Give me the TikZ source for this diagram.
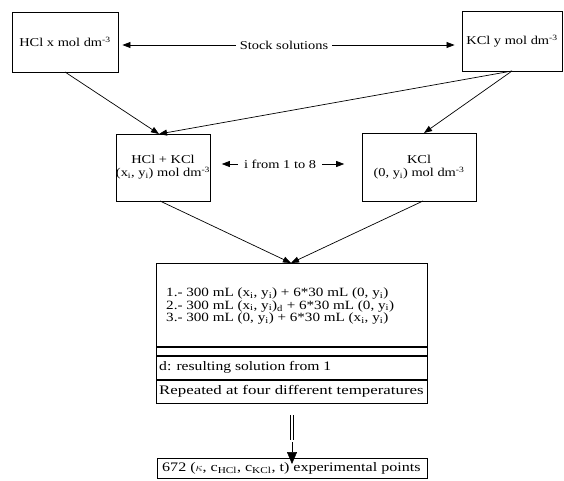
\documentclass[tikz,border=0pt]{standalone}
\usepackage{fontspec}
\usepackage{graphicx}
\setmainfont{Liberation Serif}[FakeStretch=1.2]
\usetikzlibrary{arrows.meta,calc}
\begin{document}
\begin{tikzpicture}[x=1pt,y=-1pt,
  every node/.style={font=\fontsize{12}{13}\selectfont, inner sep=0pt},
  big/.style={font=\fontsize{13}{14}\selectfont},
  box/.style={draw, line width=0.9pt},
  conn/.style={line width=0.7pt, -{Triangle[length=8pt,width=6pt]}},
  dbl/.style={double, double distance=2pt, line width=0.6pt}]
\useasboundingbox (0,0) rectangle (564,481);
% stock solutions
\node[box, minimum width=106pt, minimum height=60pt] (hcl) at (65,42) {\raisebox{-3pt}{HCl x mol dm\textsuperscript{-3}}};
\node[box, minimum width=100pt, minimum height=60pt] (kcl) at (512,41) {\raisebox{-3pt}{KCl y mol dm\textsuperscript{-3}}};
\node (stock) at (284,45) {Stock solutions};
\draw[conn] ([xshift=-4pt]stock.west) -- ([xshift=4pt]hcl.east |- stock.west);
\draw[conn] ([xshift=4pt]stock.east) -- ([xshift=-7pt]kcl.west |- stock.east);
% mixtures
\node[box, minimum width=92pt, minimum height=67pt, align=center] (mix) at (163,167.5) {HCl + KCl\\[0pt](x\textsubscript{i}, y\textsubscript{i}) mol dm\textsuperscript{-3}};
\node[box, minimum width=114pt, minimum height=68pt, align=center] (kclm) at (419,167) {KCl\\[0pt](0, y\textsubscript{i}) mol dm\textsuperscript{-3}};
\node (ifrom) at (280,164) {i from 1 to 8};
\draw[conn] ([xshift=-6pt]ifrom.west) -- ++(-16pt,0);
\draw[conn] ([xshift=6pt]ifrom.east) -- ++(22pt,0);
\coordinate (hclb) at (65,72);
\coordinate (kclb) at (512,71);
\coordinate (mixt) at (159,134);
\coordinate (kclmt) at (424,133);
\draw[conn] (hclb) -- (mixt);
\draw[conn] (kclb) -- (mixt);
\draw[conn] (kclb) -- (kclmt);
% procedure box
\node[box, minimum width=271pt, minimum height=83pt, anchor=north west] (proc) at (156,263) {};
\node[box, minimum width=271pt, minimum height=8pt, anchor=north west] (strip) at (proc.south west) {};
\node[box, minimum width=271pt, minimum height=23pt, anchor=north west] (dnote) at (strip.south west) {};
\node[box, minimum width=271pt, minimum height=23pt, anchor=north west] (rep) at (dnote.south west) {};
\node[anchor=west, align=left, font=\fontsize{12.6}{12.6}\selectfont] (list) at (166,306) {1.- 300 mL (x\textsubscript{i}, y\textsubscript{i}) + 6*30 mL (0, y\textsubscript{i})\\
2.- 300 mL (x\textsubscript{i}, y\textsubscript{i})\textsubscript{d} + 6*30 mL (0, y\textsubscript{i})\\
3.- 300 mL (0, y\textsubscript{i}) + 6*30 mL (x\textsubscript{i}, y\textsubscript{i})};
\node[anchor=west, big] (dtext) at ([xshift=3pt]dnote.west) {d: resulting solution from 1};
\node[anchor=west, big] (rtext) at ([xshift=3pt]rep.west) {\scalebox{1.08}[1]{Repeated at four different temperatures}};
\coordinate (mixb) at (160,201);
\coordinate (kclmb) at (423,201);
\coordinate (proct) at (291,263);
\draw[conn] (mixb) -- (proct);
\draw[conn] (kclmb) -- (proct);
% result
\node[box, minimum width=270pt, minimum height=20pt, anchor=north west] (final) at (157,458) {};
\node[anchor=west, big] (ftext) at ([xshift=5pt]final.west) {\scalebox{1.03}[1]{672 ($\kappa$, c\textsubscript{HCl}, c\textsubscript{KCl}, t) experimental points}};
\coordinate (dtop) at (292,415);
\coordinate (dmid) at (292,440);
\draw[dbl] (dtop) -- (dmid);
\draw[line width=0.5pt, -{Triangle[length=12pt,width=10pt]}] ([yshift=-2pt]dmid) -- ([yshift=-6pt]final.north -| dmid);
\end{tikzpicture}
\end{document}
